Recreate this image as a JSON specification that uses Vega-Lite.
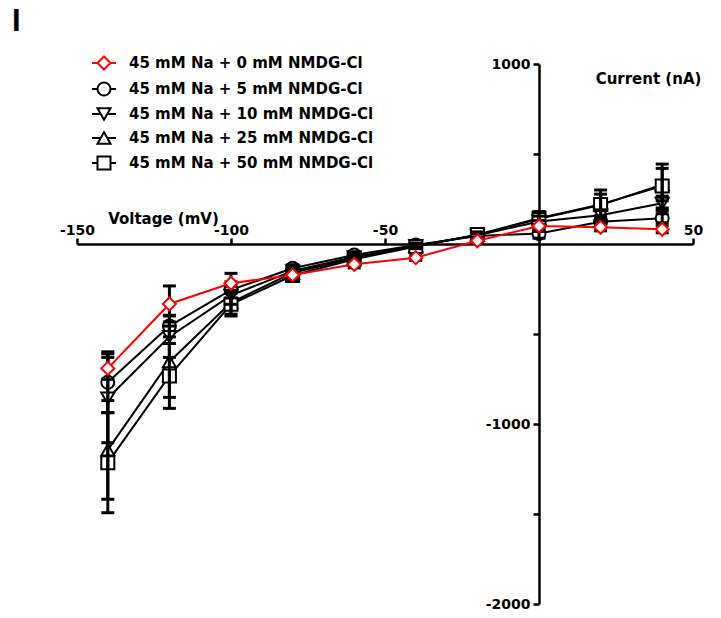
{
  "$schema": "https://vega.github.io/schema/vega-lite/v6.json",
  "width": 616,
  "height": 540,
  "autosize": {"type": "none"},
  "padding": {"left": 77, "top": 64, "right": 28, "bottom": 14},
  "background": "white",
  "config": {"view": {"stroke": null}, "font": "DejaVu Sans"},
  "title": {
    "text": "I",
    "anchor": "start",
    "frame": "group",
    "font": "Liberation Sans",
    "fontSize": 31,
    "fontWeight": "bold",
    "color": "black",
    "baseline": "alphabetic",
    "offset": 0,
    "dx": -65,
    "dy": 7
  },
  "data": {
    "values": [
      {"v": -140, "s": "45 mM Na + 0 mM NMDG-Cl", "i": -691, "e": 61},
      {"v": -120, "s": "45 mM Na + 0 mM NMDG-Cl", "i": -333, "e": 100},
      {"v": -100, "s": "45 mM Na + 0 mM NMDG-Cl", "i": -218, "e": 55},
      {"v": -80, "s": "45 mM Na + 0 mM NMDG-Cl", "i": -172, "e": 25},
      {"v": -60, "s": "45 mM Na + 0 mM NMDG-Cl", "i": -113, "e": 20},
      {"v": -40, "s": "45 mM Na + 0 mM NMDG-Cl", "i": -76, "e": 15},
      {"v": -20, "s": "45 mM Na + 0 mM NMDG-Cl", "i": 18, "e": 15},
      {"v": 0, "s": "45 mM Na + 0 mM NMDG-Cl", "i": 100, "e": 30},
      {"v": 20, "s": "45 mM Na + 0 mM NMDG-Cl", "i": 93, "e": 20},
      {"v": 40, "s": "45 mM Na + 0 mM NMDG-Cl", "i": 82, "e": 20},

      {"v": -140, "s": "45 mM Na + 5 mM NMDG-Cl", "i": -768, "e": 169},
      {"v": -120, "s": "45 mM Na + 5 mM NMDG-Cl", "i": -456, "e": 60},
      {"v": -100, "s": "45 mM Na + 5 mM NMDG-Cl", "i": -255, "e": 45},
      {"v": -80, "s": "45 mM Na + 5 mM NMDG-Cl", "i": -135, "e": 20},
      {"v": -60, "s": "45 mM Na + 5 mM NMDG-Cl", "i": -61, "e": 15},
      {"v": -40, "s": "45 mM Na + 5 mM NMDG-Cl", "i": -6, "e": 12},
      {"v": -20, "s": "45 mM Na + 5 mM NMDG-Cl", "i": 45, "e": 12},
      {"v": 0, "s": "45 mM Na + 5 mM NMDG-Cl", "i": 59, "e": 27},
      {"v": 20, "s": "45 mM Na + 5 mM NMDG-Cl", "i": 124, "e": 20},
      {"v": 40, "s": "45 mM Na + 5 mM NMDG-Cl", "i": 143, "e": 25},

      {"v": -140, "s": "45 mM Na + 10 mM NMDG-Cl", "i": -857, "e": 247},
      {"v": -120, "s": "45 mM Na + 10 mM NMDG-Cl", "i": -515, "e": 115},
      {"v": -100, "s": "45 mM Na + 10 mM NMDG-Cl", "i": -285, "e": 50},
      {"v": -80, "s": "45 mM Na + 10 mM NMDG-Cl", "i": -150, "e": 20},
      {"v": -60, "s": "45 mM Na + 10 mM NMDG-Cl", "i": -72, "e": 15},
      {"v": -40, "s": "45 mM Na + 10 mM NMDG-Cl", "i": -10, "e": 12},
      {"v": -20, "s": "45 mM Na + 10 mM NMDG-Cl", "i": 48, "e": 12},
      {"v": 0, "s": "45 mM Na + 10 mM NMDG-Cl", "i": 125, "e": 30},
      {"v": 20, "s": "45 mM Na + 10 mM NMDG-Cl", "i": 160, "e": 30},
      {"v": 40, "s": "45 mM Na + 10 mM NMDG-Cl", "i": 226, "e": 40},

      {"v": -140, "s": "45 mM Na + 25 mM NMDG-Cl", "i": -1144, "e": 274},
      {"v": -120, "s": "45 mM Na + 25 mM NMDG-Cl", "i": -654, "e": 198},
      {"v": -100, "s": "45 mM Na + 25 mM NMDG-Cl", "i": -325, "e": 65},
      {"v": -80, "s": "45 mM Na + 25 mM NMDG-Cl", "i": -160, "e": 20},
      {"v": -60, "s": "45 mM Na + 25 mM NMDG-Cl", "i": -80, "e": 15},
      {"v": -40, "s": "45 mM Na + 25 mM NMDG-Cl", "i": -12, "e": 12},
      {"v": -20, "s": "45 mM Na + 25 mM NMDG-Cl", "i": 50, "e": 12},
      {"v": 0, "s": "45 mM Na + 25 mM NMDG-Cl", "i": 140, "e": 35},
      {"v": 20, "s": "45 mM Na + 25 mM NMDG-Cl", "i": 217, "e": 60},
      {"v": 40, "s": "45 mM Na + 25 mM NMDG-Cl", "i": 330, "e": 90},

      {"v": -140, "s": "45 mM Na + 50 mM NMDG-Cl", "i": -1215, "e": 278},
      {"v": -120, "s": "45 mM Na + 50 mM NMDG-Cl", "i": -733, "e": 180},
      {"v": -100, "s": "45 mM Na + 50 mM NMDG-Cl", "i": -335, "e": 65},
      {"v": -80, "s": "45 mM Na + 50 mM NMDG-Cl", "i": -175, "e": 20},
      {"v": -60, "s": "45 mM Na + 50 mM NMDG-Cl", "i": -85, "e": 15},
      {"v": -40, "s": "45 mM Na + 50 mM NMDG-Cl", "i": -14, "e": 12},
      {"v": -20, "s": "45 mM Na + 50 mM NMDG-Cl", "i": 52, "e": 15},
      {"v": 0, "s": "45 mM Na + 50 mM NMDG-Cl", "i": 143, "e": 37},
      {"v": 20, "s": "45 mM Na + 50 mM NMDG-Cl", "i": 220, "e": 80},
      {"v": 40, "s": "45 mM Na + 50 mM NMDG-Cl", "i": 322, "e": 122}
    ]
  },
  "encoding": {
    "x": {
      "field": "v",
      "type": "quantitative",
      "scale": {"domain": [-150, 50], "nice": false, "zero": false},
      "axis": {
        "orient": "top",
        "offset": -180,
        "values": [-150, -100, -50, 50],
        "labelExpr": "'' + datum.value",
        "labelFlush": false,
        "labelOverlap": false,
        "grid": false,
        "domainColor": "black",
        "domainWidth": 2.5,
        "tickColor": "black",
        "tickWidth": 2.5,
        "tickSize": 6,
        "labelFont": "DejaVu Sans",
        "labelFontSize": 14,
        "labelFontWeight": "bold",
        "labelColor": "black",
        "labelPadding": 1,
        "title": "Voltage (mV)",
        "titleFont": "DejaVu Sans",
        "titleFontSize": 15,
        "titleFontWeight": "bold",
        "titleColor": "black",
        "titleX": 86,
        "titleY": -21,
        "titleAlign": "center",
        "titleBaseline": "alphabetic"
      }
    },
    "y": {
      "field": "i",
      "type": "quantitative",
      "scale": {"domain": [-2000, 1000], "nice": false, "zero": false},
      "axis": {
        "orient": "left",
        "offset": -462,
        "values": [-2000, -1500, -1000, -500, 500, 1000],
        "labelExpr": "datum.value % 1000 === 0 ? '' + datum.value : ''",
        "labelOverlap": false,
        "grid": false,
        "domainColor": "black",
        "domainWidth": 2.5,
        "tickColor": "black",
        "tickWidth": 2.5,
        "tickSize": 6,
        "labelFont": "DejaVu Sans",
        "labelFontSize": 14,
        "labelFontWeight": "bold",
        "labelColor": "black",
        "labelPadding": 3,
        "title": "Current (nA)",
        "titleFont": "DejaVu Sans",
        "titleFontSize": 15,
        "titleFontWeight": "bold",
        "titleColor": "black",
        "titleAngle": 0,
        "titleX": 109,
        "titleY": 14,
        "titleAlign": "center",
        "titleBaseline": "middle"
      }
    }
  },
  "layer": [
    {
      "transform": [{"filter": "datum.s !== '45 mM Na + 0 mM NMDG-Cl'"}],
      "mark": {"type": "line", "strokeWidth": 2, "color": "black"},
      "encoding": {"detail": {"field": "s", "type": "nominal"}}
    },
    {
      "transform": [{"filter": "datum.s === '45 mM Na + 5 mM NMDG-Cl'"}],
      "mark": {"type": "point", "shape": "circle", "filled": true, "fill": "white", "stroke": "black", "opacity": 1, "strokeWidth": 2, "size": 170},
      "encoding": {}
    },
    {
      "transform": [{"filter": "datum.s === '45 mM Na + 10 mM NMDG-Cl'"}],
      "mark": {"type": "point", "shape": "triangle-down", "filled": true, "fill": "white", "stroke": "black", "opacity": 1, "strokeWidth": 2, "size": 170},
      "encoding": {}
    },
    {
      "transform": [{"filter": "datum.s === '45 mM Na + 25 mM NMDG-Cl'"}],
      "mark": {"type": "point", "shape": "triangle-up", "filled": true, "fill": "white", "stroke": "black", "opacity": 1, "strokeWidth": 2, "size": 170},
      "encoding": {}
    },
    {
      "transform": [{"filter": "datum.s === '45 mM Na + 50 mM NMDG-Cl'"}],
      "mark": {"type": "point", "shape": "square", "filled": true, "fill": "white", "stroke": "black", "opacity": 1, "strokeWidth": 2, "size": 170},
      "encoding": {}
    },
    {
      "mark": {"type": "errorbar", "ticks": true, "size": 13, "thickness": 3, "color": "black", "opacity": 1},
      "encoding": {
        "yError": {"field": "e"}
      }
    },
    {
      "transform": [{"filter": "datum.s === '45 mM Na + 0 mM NMDG-Cl'"}],
      "mark": {"type": "line", "strokeWidth": 2, "color": "#ff0000"},
      "encoding": {}
    },
    {
      "transform": [{"filter": "datum.s === '45 mM Na + 0 mM NMDG-Cl'"}],
      "mark": {"type": "point", "shape": "diamond", "filled": true, "fill": "white", "stroke": "#ff0000", "opacity": 1, "strokeWidth": 2, "size": 170},
      "encoding": {}
    },
    {
      "description": "Legend carrier: transparent points whose shape/stroke scales drive the series key (symbol with line stub through it).",
      "mark": {"type": "point", "filled": false, "opacity": 0, "strokeWidth": 2, "size": 170},
      "encoding": {
        "stroke": {
          "field": "s",
          "type": "nominal",
          "scale": {
            "domain": ["45 mM Na + 0 mM NMDG-Cl", "45 mM Na + 5 mM NMDG-Cl", "45 mM Na + 10 mM NMDG-Cl", "45 mM Na + 25 mM NMDG-Cl", "45 mM Na + 50 mM NMDG-Cl"],
            "range": ["#ff0000", "black", "black", "black", "black"]
          },
          "legend": {
            "orient": "none",
            "legendX": 19,
            "legendY": -9,
            "title": null,
            "padding": 0,
            "symbolSize": 170,
            "symbolStrokeWidth": 2,
            "symbolOpacity": 1,
            "symbolFillColor": "white",
            "labelFont": "DejaVu Sans",
            "labelFontSize": 15,
            "labelFontWeight": "bold",
            "labelColor": "black",
            "labelOffset": 17,
            "labelLimit": 400,
            "rowPadding": 4
          }
        },
        "shape": {
          "field": "s",
          "type": "nominal",
          "scale": {
            "domain": ["45 mM Na + 0 mM NMDG-Cl", "45 mM Na + 5 mM NMDG-Cl", "45 mM Na + 10 mM NMDG-Cl", "45 mM Na + 25 mM NMDG-Cl", "45 mM Na + 50 mM NMDG-Cl"],
            "range": [
              "M-1.84,0H-1M1,0H1.84M-1,0L0,-1L1,0L0,1Z",
              "M-1.84,0H-1M1,0H1.84M1,0A1,1,0,1,1,-1,0A1,1,0,1,1,1,0Z",
              "M-1.84,0H-0.5M0.5,0H1.84M-1,-0.87L1,-0.87L0,0.87Z",
              "M-1.84,0H-0.5M0.5,0H1.84M0,-0.87L1,0.87L-1,0.87Z",
              "M-1.84,0H-1M1,0H1.84M-1,-1H1V1H-1Z"
            ]
          },
          "legend": {
            "orient": "none",
            "legendX": 19,
            "legendY": -9,
            "title": null,
            "padding": 0,
            "symbolSize": 170,
            "symbolStrokeWidth": 2,
            "symbolOpacity": 1,
            "symbolFillColor": "white",
            "labelFont": "DejaVu Sans",
            "labelFontSize": 15,
            "labelFontWeight": "bold",
            "labelColor": "black",
            "labelOffset": 17,
            "labelLimit": 400,
            "rowPadding": 4
          }
        }
      }
    }
  ]
}
